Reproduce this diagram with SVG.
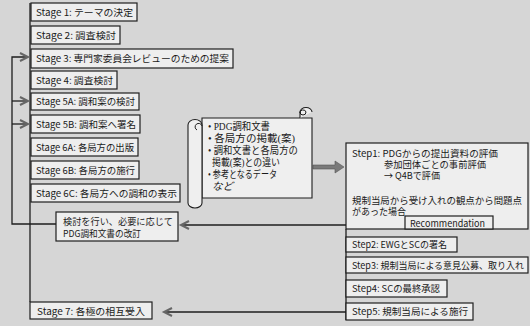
<svg xmlns="http://www.w3.org/2000/svg" width="530" height="326" viewBox="0 0 530 326">
<style>
.bx{fill:#eeeeee;stroke:#1e1e1e;stroke-width:1.2}
.t{font-family:"Noto Sans CJK JP","Noto Sans",sans-serif;font-size:9.6px;fill:#1a1a1a}
.s{font-family:"Liberation Serif","Noto Sans CJK JP",serif;font-size:10.5px;fill:#1a1a1a}
.ln{fill:none;stroke:#1e1e1e;stroke-width:1.3}
.ar{fill:none;stroke:#1e1e1e;stroke-width:1.3;marker-end:url(#chev)}
</style>
<defs>
<marker id="chev" markerUnits="userSpaceOnUse" markerWidth="12" markerHeight="12" refX="9" refY="5" orient="auto">
<path d="M1,1 L9,5 L1,9" fill="none" stroke="#666" stroke-width="2"/>
</marker>
</defs>
<rect x="0" y="0" width="530" height="326" fill="#d6d6d6"/>

<g id="connectors">
<line class="ln" x1="30" y1="3" x2="30" y2="302"/>
<path class="ar" d="M56,224 H12 V57 H28"/>
<path class="ar" d="M12,101 H28"/>
<path class="ar" d="M12,124 H28"/>
<path class="ar" d="M405,225 H181"/>
<path class="ar" d="M346,312 H164"/>
<line class="ln" x1="346" y1="229" x2="346" y2="320"/>
<path d="M313,165 H335 V161 L344,167 L335,173 V169 H313 Z" fill="#7a7a7a" stroke="#555" stroke-width="0.6"/>
</g>

<g id="stage1"><rect class="bx" x="31" y="3" width="106" height="18"/><text class="t" x="36" y="15.5" textLength="97" lengthAdjust="spacingAndGlyphs">Stage 1: テーマの決定</text></g>
<g id="stage2"><rect class="bx" x="31" y="26" width="89" height="18"/><text class="t" x="36" y="38.5" textLength="80" lengthAdjust="spacingAndGlyphs">Stage 2: 調査検討</text></g>
<g id="stage3"><rect class="bx" x="31" y="49" width="202" height="19"/><text class="t" x="36" y="62" textLength="193" lengthAdjust="spacingAndGlyphs">Stage 3: 専門家委員会レビューのための提案</text></g>
<g id="stage4"><rect class="bx" x="31" y="71" width="86" height="18"/><text class="t" x="36" y="83.5" textLength="77" lengthAdjust="spacingAndGlyphs">Stage 4: 調査検討</text></g>
<g id="stage5a"><rect class="bx" x="31" y="93" width="108" height="17"/><text class="t" x="36" y="105" textLength="99" lengthAdjust="spacingAndGlyphs">Stage 5A: 調和案の検討</text></g>
<g id="stage5b"><rect class="bx" x="31" y="115" width="109" height="18"/><text class="t" x="36" y="127.5" textLength="100" lengthAdjust="spacingAndGlyphs">Stage 5B: 調和案へ署名</text></g>
<g id="stage6a"><rect class="bx" x="31" y="138" width="107" height="18"/><text class="t" x="36" y="150.5" textLength="98" lengthAdjust="spacingAndGlyphs">Stage 6A: 各局方の出版</text></g>
<g id="stage6b"><rect class="bx" x="31" y="161" width="108" height="18"/><text class="t" x="36" y="173.5" textLength="99" lengthAdjust="spacingAndGlyphs">Stage 6B: 各局方の施行</text></g>
<g id="stage6c"><rect class="bx" x="31" y="184" width="149" height="18"/><text class="t" x="36" y="196.5" textLength="141" lengthAdjust="spacingAndGlyphs">Stage 6C: 各局方への調和の表示</text></g>
<g id="revise"><rect class="bx" x="56" y="212" width="122" height="29"/><text class="t" x="63" y="225" textLength="110" lengthAdjust="spacingAndGlyphs">検討を行い、必要に応じて</text><text class="t" x="63" y="237" textLength="78" lengthAdjust="spacingAndGlyphs">PDG調和文書の改訂</text></g>
<g id="stage7"><rect class="bx" x="30" y="302" width="122" height="17"/><text class="t" x="37" y="314.5" textLength="108" lengthAdjust="spacingAndGlyphs">Stage 7:  各極の相互受入</text></g>

<g id="scroll">
<path d="M202,118 H312 V198 H202 Z" fill="#efefef" stroke="#1e1e1e" stroke-width="1.1"/>
<path d="M300,118 V112 A6,4.5 0 0 1 312,112" fill="#efefef" stroke="#1e1e1e" stroke-width="1.1"/>
<path d="M300,112 A3,3 0 0 0 306,112 A3,2.5 0 0 0 300,113" fill="none" stroke="#1e1e1e" stroke-width="1"/>
<path d="M188,125 A7,5.5 0 0 1 202,125 V203 A7,5 0 0 1 188,203 Z" fill="#efefef" stroke="#1e1e1e" stroke-width="1.1"/>
<path d="M197,130 A3.5,3.5 0 1 1 202,126" fill="none" stroke="#1e1e1e" stroke-width="1"/>
<text class="s" x="208" y="130" textLength="62" lengthAdjust="spacingAndGlyphs">• PDG調和文書</text>
<text class="s" x="208" y="142" textLength="87" lengthAdjust="spacingAndGlyphs">• 各局方の掲載(案)</text>
<text class="s" x="208" y="154" textLength="90" lengthAdjust="spacingAndGlyphs">• 調和文書と各局方の</text>
<text class="s" x="212" y="166" textLength="68" lengthAdjust="spacingAndGlyphs">掲載(案)との違い</text>
<text class="s" x="208" y="178" textLength="69" lengthAdjust="spacingAndGlyphs">• 参考となるデータ</text>
<text class="s" x="212" y="190" font-style="italic">など</text>
</g>

<g id="step1">
<rect class="bx" x="346" y="143" width="182" height="86"/>
<text class="t" x="352" y="157" textLength="146" lengthAdjust="spacingAndGlyphs">Step1: PDGからの提出資料の評価</text>
<text class="t" x="384" y="168" textLength="102" lengthAdjust="spacingAndGlyphs">参加団体ごとの事前評価</text>
<text class="t" x="384" y="179" textLength="56" lengthAdjust="spacingAndGlyphs">→  Q4Bで評価</text>
<text class="t" x="352" y="204" textLength="170" lengthAdjust="spacingAndGlyphs">規制当局から受け入れの観点から問題点</text>
<text class="t" x="352" y="215" textLength="54" lengthAdjust="spacingAndGlyphs">があった場合</text>
</g>
<g id="recommendation"><rect class="bx" x="405" y="216" width="88" height="13"/><text class="t" x="410" y="226.5" textLength="75" lengthAdjust="spacingAndGlyphs">Recommendation</text></g>
<g id="step2"><rect class="bx" x="346" y="237" width="111" height="15"/><text class="t" x="352" y="248" textLength="95" lengthAdjust="spacingAndGlyphs">Step2: EWGとSCの署名</text></g>
<g id="step3"><rect class="bx" x="346" y="257" width="182" height="16"/><text class="t" x="352" y="268.5" textLength="172" lengthAdjust="spacingAndGlyphs">Step3: 規制当局による意見公募、取り入れ</text></g>
<g id="step4"><rect class="bx" x="346" y="280" width="101" height="17"/><text class="t" x="352" y="292" textLength="88" lengthAdjust="spacingAndGlyphs">Step4: SCの最終承認</text></g>
<g id="step5"><rect class="bx" x="346" y="303" width="127" height="17"/><text class="t" x="352" y="315" textLength="116" lengthAdjust="spacingAndGlyphs">Step5: 規制当局による施行</text></g>
</svg>
